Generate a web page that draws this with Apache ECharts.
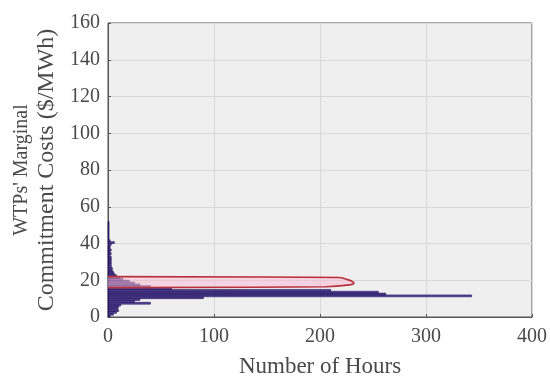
<!DOCTYPE html>
<html>
<head>
<meta charset="utf-8">
<script src="https://cdn.jsdelivr.net/npm/echarts@6/dist/echarts.min.js"></script>
<style>html,body{margin:0;padding:0;background:#fff}#c{width:550px;height:383px}</style>
</head>
<body>
<div id="c"></div>
<script>
// Bin lower edges ($/MWh), bin width 1
const blueBins = [0,1,2,3,4,5,6,7,8,9,10,11,12,13,14,15,16,17,18,19,20,21,22,23,24,25,26,27,28,29,30,31,32,33,34,35,36,37,38,39,40,41,42,43,44,45,46,47,48,49,50,51];
const blueHours = [2,5,8,10,9,10,12,40,25,30,90,343,262,255,210,60,40,30,25,20,14,11,8,6,5,4,4,3,3,3,3,3,3,2,3,2,3,2,2,3,6,2,1,1,1,1,1,1,1,1,1,1];
const redBins = [16,17,18,19,20,21];
const redHours = [205,228,232,230,225,218];
const xTicks = [0,100,200,300,400];
const yTicks = [0,20,40,60,80,100,120,140,160];

const FONT = 'Liberation Serif';
const chart = echarts.init(document.getElementById('c'));

function histItem(fill, stroke, lw) {
  return function (params, api) {
    const h = api.value(0), y0 = api.value(1);
    const p0 = api.coord([0, y0]);
    const p1 = api.coord([h, y0 + 1]);
    return {
      type: 'rect',
      shape: { x: p0[0], y: p1[1], width: p1[0] - p0[0], height: p0[1] - p1[1] },
      style: { fill: fill, stroke: stroke, lineWidth: lw }
    };
  };
}

// outline of the red histogram (built from the red arrays)
const redOutline = [[0, redBins[0]]];
redHours.forEach((h, i) => { redOutline.push([h, redBins[i] + 0.5]); });
redOutline.push([0, redBins[redBins.length - 1] + 1]);

chart.setOption({
  animation: false,
  backgroundColor: '#ffffff',
  grid: { left: 108, right: 17, top: 23, bottom: 58, show: true, backgroundColor: '#efefef', borderColor: '#555', borderWidth: 1 },
  xAxis: {
    type: 'value', min: 0, max: 400, interval: 100,
    name: 'Number of Hours', nameLocation: 'middle', nameGap: 38,
    nameTextStyle: { fontFamily: FONT, fontSize: 23, color: '#4a4a4a' },
    axisLine: { show: true, lineStyle: { color: '#555' } },
    axisTick: { show: true, inside: true, length: 3, lineStyle: { color: '#555' } },
    axisLabel: { fontFamily: FONT, fontSize: 20, color: '#4a4a4a', margin: 10 },
    splitLine: { show: true, lineStyle: { color: '#d9d9d9', width: 1 } }
  },
  yAxis: {
    type: 'value', min: 0, max: 160, interval: 20,
    name: "{a|WTPs' Marginal}\n{b|Commitment Costs ($/MWh)}", nameLocation: 'middle', nameGap: 43,
    nameTextStyle: {
      fontFamily: FONT, color: '#4a4a4a',
      rich: {
        a: { fontFamily: FONT, fontSize: 20, lineHeight: 25, color: '#4a4a4a' },
        b: { fontFamily: FONT, fontSize: 24, lineHeight: 26, color: '#4a4a4a' }
      }
    },
    axisLine: { show: true, lineStyle: { color: '#555' } },
    axisTick: { show: true, inside: true, length: 3, lineStyle: { color: '#555' } },
    axisLabel: { fontFamily: FONT, fontSize: 20, color: '#4a4a4a', margin: 8 },
    splitLine: { show: true, lineStyle: { color: '#d9d9d9', width: 1 } }
  },
  series: [
    {
      type: 'custom',
      renderItem: histItem('rgba(50,30,130,0.8)', '#1e1058', 0.6),
      encode: { x: 0, y: 1 },
      data: blueHours.map((h, i) => [h, blueBins[i]]),
      z: 2
    },
    {
      type: 'custom',
      renderItem: histItem('rgba(250,185,210,0.55)', 'rgba(250,185,210,0)', 0),
      encode: { x: 0, y: 1 },
      data: redHours.map((h, i) => [h, redBins[i]]),
      z: 3
    },
    {
      type: 'line',
      data: redOutline,
      smooth: 0.4,
      symbol: 'none',
      lineStyle: { color: '#b8303c', width: 1.6 },
      z: 4
    }
  ]
});
</script>
</body>
</html>
